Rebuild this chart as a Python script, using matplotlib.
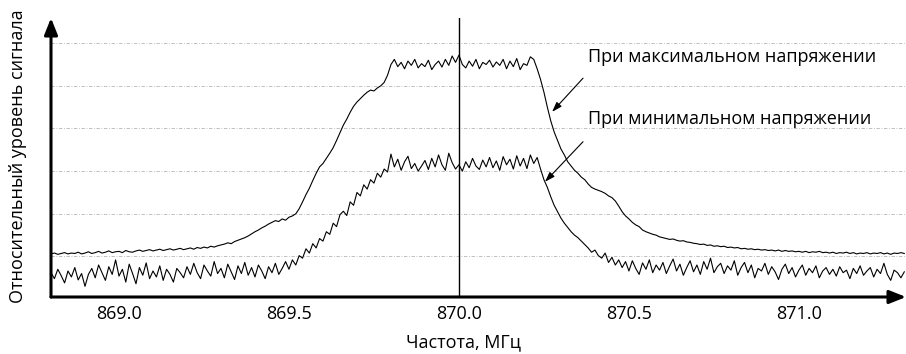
import numpy as np
import matplotlib
matplotlib.use("Agg")
import matplotlib.pyplot as plt

plt.rcParams['font.family'] = ['Open Sans', 'DejaVu Sans']

# frequency grid, MHz (step 0.01)
freq = np.round(np.arange(252) * 0.01 + 868.80, 2)

# relative signal level at maximum voltage
level_max = [
    1.06, 1.08, 1.05, 1.07, 1.09, 1.06, 1.08, 1.07, 1.10, 1.06,
    1.08, 1.11, 1.07, 1.09, 1.12, 1.08, 1.10, 1.13, 1.09, 1.11,
    1.12, 1.09, 1.14, 1.11, 1.10, 1.13, 1.15, 1.12, 1.14, 1.16,
    1.13, 1.15, 1.17, 1.14, 1.16, 1.18, 1.15, 1.17, 1.19, 1.16,
    1.18, 1.20, 1.17, 1.21, 1.19, 1.22, 1.20, 1.24, 1.22, 1.25,
    1.27, 1.29, 1.32, 1.30, 1.35, 1.38, 1.41, 1.44, 1.48, 1.53,
    1.58, 1.62, 1.67, 1.71, 1.76, 1.80, 1.84, 1.82, 1.88, 1.85,
    1.92, 1.95, 2.00, 2.12, 2.28, 2.45, 2.60, 2.78, 2.95, 3.10,
    3.18, 3.30, 3.42, 3.55, 3.72, 3.90, 4.08, 4.22, 4.38, 4.52,
    4.62, 4.70, 4.78, 4.85, 4.90, 4.88, 4.95, 5.00, 5.08, 5.25,
    5.50, 5.62, 5.45, 5.55, 5.40, 5.58, 5.48, 5.62, 5.42, 5.52,
    5.45, 5.60, 5.38, 5.50, 5.58, 5.44, 5.62, 5.48, 5.70, 5.55,
    5.72, 5.50, 5.42, 5.58, 5.46, 5.62, 5.40, 5.55, 5.50, 5.60,
    5.44, 5.56, 5.48, 5.62, 5.40, 5.58, 5.45, 5.64, 5.38, 5.52,
    5.48, 5.68, 5.62, 5.40, 5.15, 4.85, 4.50, 4.18, 3.92, 3.72,
    3.52, 3.38, 3.22, 3.12, 3.02, 2.95, 2.86, 2.80, 2.70, 2.62,
    2.58, 2.55, 2.52, 2.48, 2.42, 2.38, 2.30, 2.18, 2.05, 1.95,
    1.88, 1.80, 1.74, 1.70, 1.62, 1.58, 1.55, 1.52, 1.50, 1.46,
    1.44, 1.42, 1.40, 1.41, 1.38, 1.36, 1.37, 1.34, 1.33, 1.31,
    1.30, 1.28, 1.29, 1.26, 1.27, 1.24, 1.25, 1.23, 1.24, 1.21,
    1.22, 1.20, 1.21, 1.18, 1.19, 1.17, 1.18, 1.16, 1.17, 1.15,
    1.16, 1.14, 1.15, 1.13, 1.15, 1.12, 1.14, 1.12, 1.13, 1.11,
    1.12, 1.10, 1.12, 1.09, 1.11, 1.10, 1.12, 1.09, 1.10, 1.08,
    1.10, 1.07, 1.09, 1.08, 1.10, 1.07, 1.09, 1.06, 1.08, 1.07,
    1.09, 1.06, 1.08, 1.07, 1.09, 1.06, 1.08, 1.05, 1.08, 1.07,
    1.09, 1.07,
]

# relative signal level at minimum voltage
level_min = [
    0.62, 0.48, 0.70, 0.55, 0.38, 0.66, 0.52, 0.74, 0.45, 0.60,
    0.30, 0.58, 0.72, 0.50, 0.80, 0.62, 0.44, 0.76, 0.58, 0.92,
    0.54, 0.70, 0.40, 0.82, 0.60, 0.36, 0.74, 0.56, 0.85, 0.48,
    0.66, 0.52, 0.78, 0.44, 0.70, 0.58, 0.40, 0.72, 0.62, 0.50,
    0.76, 0.58, 0.84, 0.62, 0.48, 0.80, 0.66, 0.54, 0.88, 0.60,
    0.72, 0.50, 0.82, 0.64, 0.46, 0.78, 0.60, 0.86, 0.56, 0.74,
    0.52, 0.80, 0.66, 0.48, 0.76, 0.62, 0.84, 0.58, 0.72, 0.88,
    0.70, 0.92, 0.80, 1.02, 0.96, 1.18, 1.08, 1.30, 1.20, 1.42,
    1.36, 1.58, 1.52, 1.78, 1.70, 1.98, 2.06, 1.96, 2.28, 2.20,
    2.50, 2.42, 2.68, 2.58, 2.80, 2.72, 2.95, 2.86, 3.05, 2.98,
    3.40, 3.10, 3.28, 3.02, 3.22, 3.35, 3.06, 3.18, 3.00, 3.12,
    3.25, 3.04, 3.30, 3.10, 3.38, 3.15, 3.02, 3.42, 3.20, 3.05,
    3.15, 3.00, 3.22, 3.08, 3.30, 3.12, 3.04, 3.26, 3.10, 3.32,
    3.08, 3.24, 3.02, 3.34, 3.15, 3.28, 3.05, 3.36, 3.12, 3.30,
    3.06, 3.38, 3.18, 3.32, 3.05, 2.80, 2.62, 2.40, 2.20, 2.05,
    1.90, 1.78, 1.68, 1.58, 1.50, 1.44, 1.36, 1.28, 1.20, 1.10,
    1.15, 1.02, 0.96, 1.08, 0.86, 0.98, 0.80, 0.92, 0.74, 0.88,
    0.66, 0.90, 0.72, 0.58, 0.85, 0.70, 0.92, 0.62, 0.80, 0.68,
    0.86, 0.60, 0.78, 0.94, 0.66, 0.82, 0.56, 0.74, 0.90, 0.64,
    0.80, 0.58, 0.88, 0.70, 0.96, 0.62, 0.76, 0.84, 0.60, 0.78,
    0.68, 0.90, 0.56, 0.74, 0.86, 0.62, 0.80, 0.50, 0.72, 0.66,
    0.84, 0.58, 0.76, 0.64, 0.46, 0.70, 0.82, 0.60, 0.74, 0.52,
    0.68, 0.80, 0.56, 0.72, 0.62, 0.78, 0.50, 0.66, 0.74, 0.58,
    0.70, 0.54, 0.76, 0.62, 0.68, 0.48, 0.72, 0.60, 0.78, 0.56,
    0.66, 0.74, 0.52, 0.70, 0.60, 0.84, 0.58, 0.44, 0.68, 0.62,
    0.50, 0.64,
]

xticks = [869.0, 869.5, 870.0, 870.5, 871.0]
grid_levels = [1, 2, 3, 4, 5, 6]
center_freq = 870.0

label_max = "При максимальном напряжении"
label_min = "При минимальном напряжении"

fig = plt.figure(figsize=(9.06, 3.54), dpi=100)
ax = fig.add_axes([51 / 906, 1 - 297 / 354, 855 / 906, 279 / 354])

for lv in grid_levels:
    ax.axhline(lv, color='#b4b4b4', lw=0.6, ls=(0, (4, 2, 1, 2)), zorder=1)

ax.axvline(center_freq, color='k', lw=1.0, zorder=2)
ax.plot(freq, level_max, color='k', lw=0.8, zorder=3)
ax.plot(freq, level_min, color='k', lw=0.8, zorder=3)

ax.set_xlim(868.8, 871.315)
ax.set_ylim(0.05, 6.59)

ax.set_xticks(xticks)
ax.set_xticklabels([f"{t:.1f}" for t in xticks], fontsize=13)
ax.set_yticks([])
ax.tick_params(axis='x', length=0, pad=6)

for s in ax.spines.values():
    s.set_visible(False)

# axes drawn as arrows
arrow_kw = dict(arrowstyle='-|>,head_length=1.0,head_width=0.4', color='k',
                lw=2.2, shrinkA=0, shrinkB=0)
ax.annotate('', xy=(1, 0), xytext=(0, 0), xycoords='axes fraction',
            arrowprops=arrow_kw, annotation_clip=False)
ax.annotate('', xy=(0, 1), xytext=(0, 0), xycoords='axes fraction',
            arrowprops=arrow_kw, annotation_clip=False)

ax.set_xlabel("Частота, МГц", fontsize=13, va='center')
ax.xaxis.set_label_coords(0.483, -0.161)
ax.set_ylabel("Относительный уровень сигнала", fontsize=13, va='center')
ax.yaxis.set_label_coords(-0.0386, 0.505)

pointer = dict(arrowstyle='-|>,head_length=0.6,head_width=0.2', color='k',
               lw=0.8, shrinkA=0, shrinkB=0)
ax.annotate('', xy=(870.274, 4.39), xytext=(870.365, 5.18), arrowprops=pointer)
ax.annotate('', xy=(870.253, 2.75), xytext=(870.365, 3.69), arrowprops=pointer)
ax.text(870.379, 5.68, label_max, fontsize=13, va='center', ha='left')
ax.text(870.379, 4.22, label_min, fontsize=13, va='center', ha='left')

fig.savefig("out.png", dpi=100)
